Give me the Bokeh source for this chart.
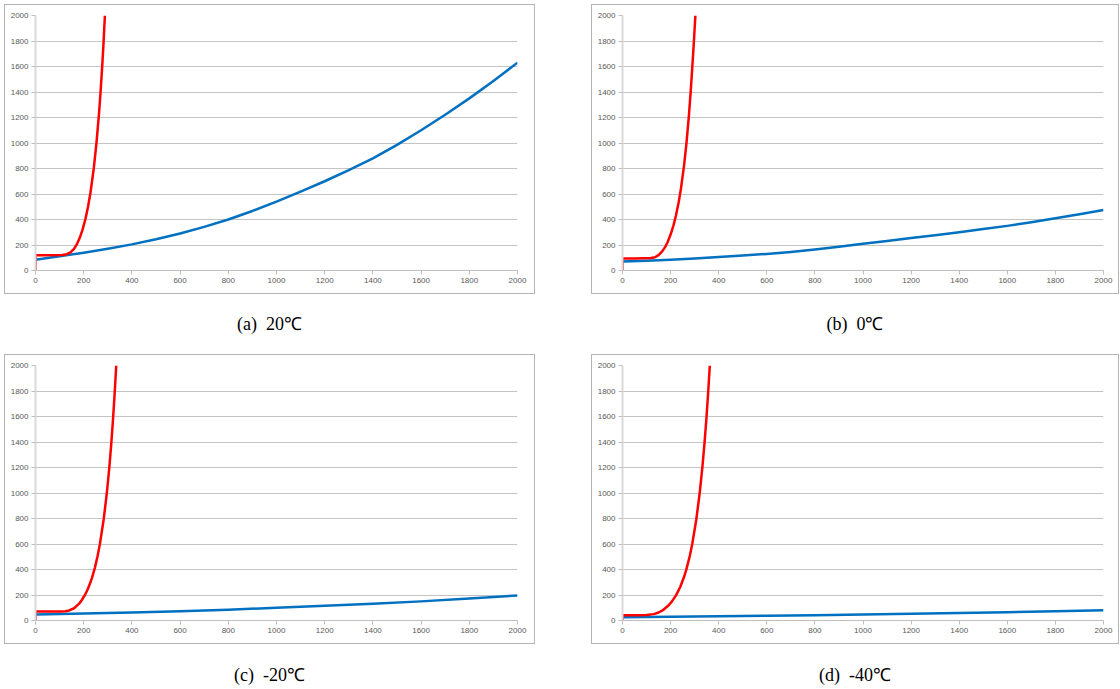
from bokeh.plotting import figure
from bokeh.layouts import column, row
from bokeh.models import Div, Spacer, FixedTicker
from bokeh.embed import file_html
from bokeh.resources import INLINE

# ---------------- data ----------------
captions = ["(a)&nbsp;&nbsp;20℃", "(b)&nbsp;&nbsp;0℃", "(c)&nbsp;&nbsp;-20℃", "(d)&nbsp;&nbsp;-40℃"]
ticks = [0, 200, 400, 600, 800, 1000, 1200, 1400, 1600, 1800, 2000]

red_a_x = [0, 0, 50, 110, 130, 145, 160, 173, 185, 195, 207, 218, 228, 242, 253, 263, 270, 277, 282, 288]
red_a_y = [0, 120, 120, 122, 128, 142, 170, 211, 263, 319, 403, 500, 610, 804, 1000, 1219, 1400, 1609, 1776, 2000]

red_b_x = [0, 0, 50, 118, 135, 150, 165, 177, 187, 200, 212, 222, 233, 243, 256, 266, 276, 284, 291, 297, 303]
red_b_y = [0, 95, 95, 98, 104, 121, 150, 183, 220, 282, 354, 429, 530, 642, 825, 1000, 1212, 1414, 1618, 1800, 2000]

red_c_x = [0, 0, 50, 100, 124, 140, 160, 180, 190, 205, 215, 225, 235, 246, 257, 267, 283, 296, 306, 314, 321, 328, 335]
red_c_y = [0, 70, 70, 70, 73, 79, 96, 130, 154, 200, 237, 284, 338, 411, 500, 597, 794, 1000, 1194, 1377, 1560, 1767, 2000]

red_d_x = [0, 0, 50, 100, 130, 150, 170, 190, 205, 223, 240, 255, 265, 280, 290, 307, 321, 332, 341, 349, 356, 363]
red_d_y = [0, 42, 42, 43, 50, 63, 84, 116, 148, 199, 263, 337, 397, 508, 600, 794, 1000, 1199, 1391, 1587, 1782, 2000]

blue_a_x = [0, 100, 200, 300, 400, 500, 600, 700, 800, 900, 1000, 1100, 1200, 1300, 1400, 1500, 1600, 1700, 1800, 1900, 2000]
blue_a_y = [85, 111, 140, 171, 205, 245, 290, 342, 400, 467, 540, 618, 700, 788, 880, 985, 1100, 1222, 1350, 1487, 1630]
blue_b_x = blue_a_x
blue_b_y = [70, 77, 85, 94, 105, 117, 130, 146, 165, 187, 210, 232, 255, 277, 300, 325, 350, 379, 410, 442, 475]
blue_c_x = [0, 200, 400, 600, 800, 1000, 1200, 1400, 1600, 1800, 2000]
blue_c_y = [48, 54, 62, 72, 85, 100, 115, 132, 150, 172, 197]
blue_d_x = blue_c_x
blue_d_y = [25, 29, 33, 37, 42, 48, 53, 59, 65, 72, 80]

RED = "#ff0000"
BLUE = "#0070c0"


def make_panel(rx, ry, bx, by, w, right):
    p = figure(width=w, height=288, x_range=(0, 2000), y_range=(0, 2000),
               output_backend="svg", toolbar_location=None,
               min_border_left=30, min_border_right=right,
               min_border_top=10, min_border_bottom=23)
    p.styles = {"outline": "1px solid #b4b4b4"}
    p.outline_line_color = None
    p.background_fill_color = "white"
    p.border_fill_color = "white"

    p.xgrid.grid_line_color = None
    p.ygrid.grid_line_color = "#c4c4c4"
    p.ygrid.grid_line_width = 1

    for ax in (p.xaxis[0], p.yaxis[0]):
        ax.ticker = FixedTicker(ticks=ticks)
        ax.minor_tick_line_color = None
        ax.major_tick_in = 0
        ax.major_tick_out = 4
        ax.major_label_text_font = "Liberation Sans"
        ax.major_label_text_font_size = "8px"
        ax.major_label_text_color = "#595959"
        ax.major_label_standoff = 3
    p.xaxis.axis_line_color = "#bfbfbf"
    p.xaxis.major_tick_line_color = "#bfbfbf"
    p.yaxis.axis_line_color = "#d9d9d9"
    p.yaxis.axis_line_width = 2
    p.yaxis.major_tick_line_color = "#bfbfbf"

    p.line(bx, by, line_color=BLUE, line_width=2.5, line_join="round")
    p.line(rx, ry, line_color=RED, line_width=2.5, line_join="round")
    return p


def caption(txt, w, h, shift):
    html = f'<span style="position:relative; top:{shift}px">{txt}</span>'
    return Div(text=html, width=w, height=h, margin=0,
               styles={"text-align": "center", "font-family": "Liberation Serif",
                       "font-size": "18px", "line-height": f"{h}px", "color": "#000000",
                       "overflow": "visible"})


pa = make_panel(red_a_x, red_a_y, blue_a_x, blue_a_y, 529, 17)
pb = make_panel(red_b_x, red_b_y, blue_b_x, blue_b_y, 526, 15)
pc = make_panel(red_c_x, red_c_y, blue_c_x, blue_c_y, 529, 17)
pd = make_panel(red_d_x, red_d_y, blue_d_x, blue_d_y, 526, 15)

layout = column(
    Spacer(height=5),
    row(Spacer(width=5), pa, Spacer(width=58), pb),
    row(Spacer(width=5), caption(captions[0], 529, 62, 0), Spacer(width=58), caption(captions[1], 526, 62, 0)),
    row(Spacer(width=5), pc, Spacer(width=58), pd),
    row(Spacer(width=5), caption(captions[2], 529, 44, 10), Spacer(width=58), caption(captions[3], 526, 44, 10)),
)

open("out.html", "w").write(file_html(layout, INLINE))
